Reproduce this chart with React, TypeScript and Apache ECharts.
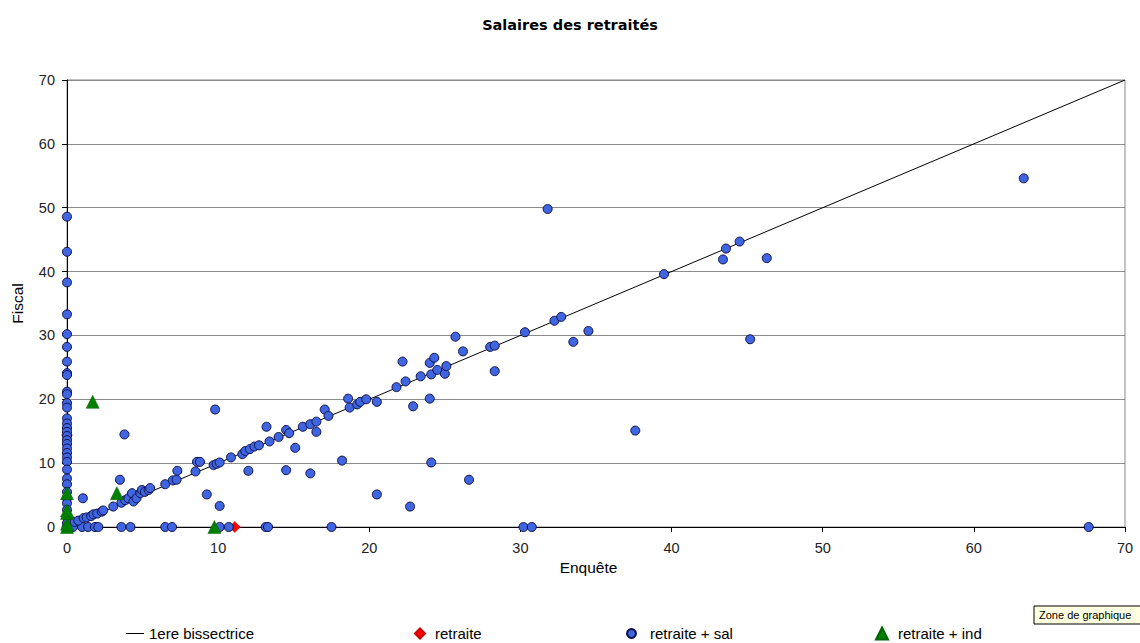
import React, { useEffect, useRef } from "react";
import * as echarts from "echarts";

const chartTitle = "Salaires des retraités";
const xAxisName = "Enquête";
const yAxisName = "Fiscal";
const seriesNames = ["1ere bissectrice", "retraite", "retraite + sal", "retraite + ind"];

const bissectrice: [number, number][] = [[0, 0], [70, 70]];

const retraite: [number, number][] = [[0, 14.4], [0, 0], [11.1, 0]];

const retraiteInd: [number, number][] = [
  [0, 0], [0, 0.5], [0, 2.2], [0, 2.6], [0, 5.3], [1.7, 19.6], [3.3, 5.3], [9.75, 0],
];

// retraite + sal : points with Enquête = 0
const salStackY = [
  48.6, 43.1, 38.3, 33.3, 30.2, 28.2, 25.9, 24.1, 23.8, 21.2, 20.8, 19.4, 18.7, 17.0,
  16.2, 15.5, 14.9, 14.25, 13.6, 13.0, 12.3, 11.6, 10.9, 10.2, 9.0, 7.6, 6.7, 5.5, 4.5,
  3.7, 2.7, 1.6, 0.6, 0,
];

// retraite + sal : points with Fiscal = 0
const salZeroRowX = [
  0.4, 1.0, 1.4, 1.85, 2.07, 3.6, 4.2, 6.5, 6.95, 10.1, 10.7, 13.15, 13.3, 17.5, 30.2, 30.75, 67.6,
];

// retraite + sal : other points
const salPoints: [number, number][] = [
  [0.5, 0.8], [0.75, 1.0], [1.1, 1.4], [1.3, 1.5], [1.6, 1.7], [1.75, 2.0], [2.0, 2.1],
  [2.3, 2.4], [2.4, 2.6], [3.06, 3.2], [3.6, 3.8], [3.85, 4.2], [4.06, 4.5], [4.3, 5.3],
  [4.4, 4.0], [4.6, 4.5], [4.85, 5.3], [4.95, 5.8], [5.15, 5.5], [5.4, 5.8], [5.5, 6.1],
  [6.5, 6.7], [7.0, 7.3], [7.25, 7.4], [7.3, 8.8], [8.5, 8.7], [8.6, 10.2], [8.8, 10.2],
  [9.25, 5.1], [9.7, 9.7], [9.9, 9.9], [10.1, 10.1], [10.1, 3.3], [10.85, 10.9],
  [11.6, 11.4], [11.8, 11.9], [12.1, 12.2], [12.4, 12.6], [12.0, 8.8], [9.8, 18.4],
  [1.05, 4.5], [3.5, 7.4], [3.8, 14.5],
  [12.7, 12.8], [13.2, 15.7], [13.4, 13.4], [14.0, 14.1], [14.5, 15.2], [14.7, 14.7],
  [15.1, 12.4], [14.5, 8.9], [15.6, 15.7], [16.1, 16.1], [16.5, 16.5], [16.5, 14.9],
  [16.1, 8.4], [17.05, 18.4], [17.3, 17.4], [18.2, 10.4], [18.6, 20.1], [18.7, 18.7],
  [19.2, 19.2], [19.4, 19.6], [19.8, 20.0], [20.5, 19.6], [20.5, 5.1], [21.8, 21.9],
  [22.2, 25.9], [22.4, 22.8], [22.7, 3.2], [22.9, 18.9], [23.4, 23.6], [24.0, 25.7],
  [24.3, 26.5], [24.0, 20.1], [24.1, 23.9], [24.5, 24.6], [25.0, 24.0], [25.1, 25.2],
  [24.1, 10.1], [25.7, 29.8], [26.2, 27.5], [26.6, 7.4], [28.0, 28.2], [28.3, 28.4],
  [28.3, 24.4], [30.3, 30.5], [31.8, 49.8], [32.25, 32.3], [32.7, 32.9], [33.5, 29.0],
  [34.5, 30.7], [37.6, 15.1], [39.5, 39.6], [43.4, 41.9], [43.6, 43.6], [44.5, 44.7],
  [46.3, 42.1], [45.2, 29.4], [63.3, 54.6],
];

const axisMin = 0;
const axisMax = 70;
const axisInterval = 10;

export default function App() {
  const ref = useRef<HTMLDivElement>(null);
  useEffect(() => {
    if (!ref.current) return;
    const chart = echarts.init(ref.current, undefined, { renderer: "svg" });
    const retraiteSal: [number, number][] = [
      ...salStackY.map((y) => [0, y] as [number, number]),
      ...salZeroRowX.map((x) => [x, 0] as [number, number]),
      ...salPoints,
    ];
    const font = "Arial, 'Liberation Sans', sans-serif";
    const legendText = (padLeft: number) => ({
      fontFamily: font,
      fontSize: 15,
      lineHeight: 15,
      color: "#000",
      padding: [0, 0, 0, padLeft],
    });
    const legendBase = {
      top: 626,
      itemGap: 0,
      padding: 0,
      selectedMode: false,
    };
    chart.setOption({
      animation: false,
      backgroundColor: "#fff",
      title: {
        text: chartTitle,
        left: "center",
        top: 12,
        textStyle: {
          fontFamily: "'DejaVu Sans', Verdana, sans-serif",
          fontSize: 14.5,
          fontWeight: "bold",
          color: "#000",
        },
      },
      legend: [
        {
          ...legendBase,
          left: 126,
          itemWidth: 18,
          itemHeight: 1,
          textStyle: legendText(0),
          data: [{ name: seriesNames[0], icon: "rect" }],
        },
        {
          ...legendBase,
          left: 414,
          itemWidth: 10,
          itemHeight: 10,
          textStyle: legendText(5),
          data: [seriesNames[1]],
        },
        {
          ...legendBase,
          left: 626,
          itemWidth: 9,
          itemHeight: 9,
          textStyle: legendText(9),
          data: [seriesNames[2]],
        },
        {
          ...legendBase,
          left: 875,
          itemWidth: 12,
          itemHeight: 12,
          textStyle: legendText(5),
          data: [seriesNames[3]],
        },
      ],
      grid: {
        left: 67,
        right: 15,
        top: 80,
        bottom: 116,
        show: true,
        borderColor: "#888",
        borderWidth: 1,
        backgroundColor: "#fff",
      },
      xAxis: {
        type: "value",
        min: axisMin,
        max: axisMax,
        interval: axisInterval,
        name: xAxisName,
        nameLocation: "middle",
        nameGap: 25,
        nameTextStyle: { fontFamily: font, fontSize: 15.5, color: "#000", padding: [0, 15, 0, 0] },
        axisLine: { show: true, onZero: false, lineStyle: { color: "#000", width: 1 } },
        axisTick: { show: true, inside: false, length: 5, lineStyle: { color: "#000" } },
        axisLabel: { fontFamily: font, fontSize: 14.5, color: "#222", margin: 13 },
        splitLine: { show: false },
      },
      yAxis: {
        type: "value",
        min: axisMin,
        max: axisMax,
        interval: axisInterval,
        name: yAxisName,
        nameLocation: "middle",
        nameRotate: 90,
        nameGap: 42,
        nameTextStyle: { fontFamily: font, fontSize: 15.5, color: "#000" },
        axisLine: { show: true, onZero: false, lineStyle: { color: "#000", width: 1 } },
        axisTick: { show: true, inside: false, length: 5, lineStyle: { color: "#000" } },
        axisLabel: { fontFamily: font, fontSize: 14.5, color: "#222", margin: 12 },
        splitLine: { show: true, lineStyle: { color: "#8c8c8c", width: 1 } },
      },
      graphic: [
        {
          type: "rect",
          shape: { x: 1034, y: 606, width: 120, height: 18 },
          style: { fill: "#FFFFE1", stroke: "#000", lineWidth: 1 },
          z: 100,
        },
        {
          type: "text",
          x: 1039,
          y: 609,
          style: { text: "Zone de graphique", fill: "#000", font: "11px Arial, 'Liberation Sans', sans-serif" },
          z: 101,
        },
      ],
      series: [
        {
          name: seriesNames[0],
          type: "line",
          data: bissectrice,
          symbol: "none",
          lineStyle: { color: "#000", width: 1 },
          itemStyle: { color: "#000" },
          z: 2,
        },
        {
          name: seriesNames[1],
          type: "scatter",
          data: retraite,
          symbol: "diamond",
          symbolSize: 11,
          itemStyle: { color: "#FF0000", borderColor: "#cc0000", borderWidth: 0.5, opacity: 1 },
          z: 3,
        },
        {
          name: seriesNames[2],
          type: "scatter",
          data: retraiteSal,
          symbol: "circle",
          symbolSize: 9,
          itemStyle: { color: "#3F66E0", borderColor: "#10104a", borderWidth: 1, opacity: 1 },
          z: 4,
        },
        {
          name: seriesNames[3],
          type: "scatter",
          data: retraiteInd,
          symbol: "triangle",
          symbolSize: 13,
          itemStyle: { color: "#008000", borderColor: "#006400", borderWidth: 0.5, opacity: 1 },
          z: 5,
        },
      ],
    });
    return () => chart.dispose();
  }, []);
  return (
    <div
      ref={ref}
      style={{ position: "fixed", left: 0, top: 0, width: 1140, height: 643, background: "#fff" }}
    />
  );
}
